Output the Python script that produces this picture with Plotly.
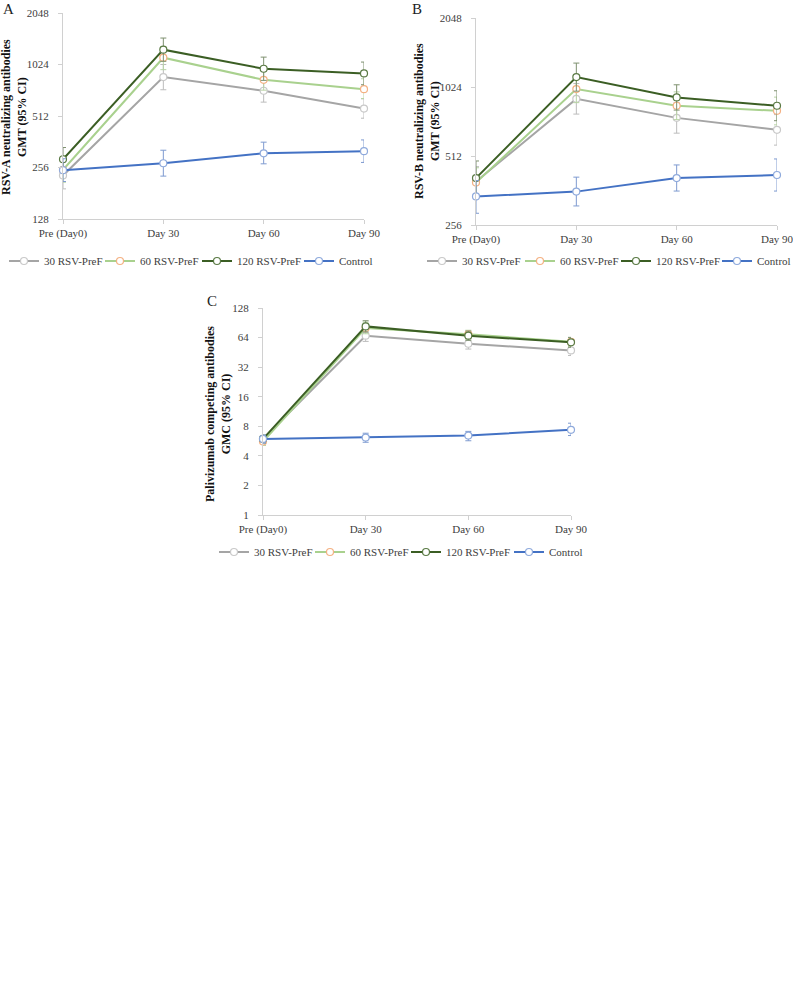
import math
import plotly.graph_objects as go

categories = ["Pre (Day0)", "Day 30", "Day 60", "Day 90"]
series_names = ["30 RSV-PreF", "60 RSV-PreF", "120 RSV-PreF", "Control"]

# Panel A: RSV-A neutralizing antibodies GMT
a_30 = [230, 864, 719, 566]
a_30_hi = [276, 1024, 838, 645]
a_30_lo = [192, 729, 617, 497]
a_60 = [248, 1122, 833, 735]
a_60_hi = [300, 1300, 960, 845]
a_60_lo = [210, 955, 725, 648]
a_120 = [286, 1250, 967, 908]
a_120_hi = [335, 1462, 1131, 1058]
a_120_lo = [244, 1069, 827, 780]
a_ctl = [247, 271, 310, 319]
a_ctl_hi = [288, 323, 360, 371]
a_ctl_lo = [212, 228, 269, 274]

# Panel B: RSV-B neutralizing antibodies GMT
b_30 = [396, 909, 751, 666]
b_30_hi = [460, 1060, 875, 776]
b_30_lo = [341, 780, 644, 571]
b_60 = [392, 1003, 848, 806]
b_60_hi = [455, 1150, 975, 925]
b_60_lo = [338, 875, 738, 700]
b_120 = [410, 1131, 922, 848]
b_120_hi = [487, 1302, 1047, 986]
b_120_lo = [345, 982, 812, 730]
b_ctl = [341, 358, 410, 423]
b_ctl_hi = [400, 414, 468, 497]
b_ctl_lo = [288, 310, 360, 360]

# Panel C: Palivizumab competing antibodies GMC
c_30 = [5.95, 66.9, 55.4, 47.4]
c_30_hi = [6.5, 76, 62, 53]
c_30_lo = [5.4, 58.5, 48.9, 42.1]
c_60 = [5.6, 80, 69, 58]
c_60_hi = [6.2, 92, 76, 64]
c_60_lo = [5.1, 70, 62, 52]
c_120 = [5.95, 83.2, 66.9, 57.2]
c_120_hi = [6.5, 95, 74.6, 64.3]
c_120_lo = [5.4, 73, 60, 51]
c_ctl = [5.95, 6.14, 6.44, 7.36]
c_ctl_hi = [6.5, 6.8, 7.1, 8.6]
c_ctl_lo = [5.4, 5.5, 5.7, 6.44]

a_ticks = [128, 256, 512, 1024, 2048]
b_ticks = [256, 512, 1024, 2048]
c_ticks = [1, 2, 4, 8, 16, 32, 64, 128]

line_colors = ["#a5a5a5", "#a9d18e", "#3b5e24", "#4472c4"]
marker_colors = ["#c9c9c9", "#f4b183", "#5a7a44", "#8faadc"]
err_colors = ["#bcbcbc", "#b9d4a6", "#7f9170", "#7f9bd0"]

FONT = "Liberation Serif"
W, H = 793, 990

fig = go.Figure()

# legend item positions (pixel x of each item's start, pixel y of the row)
panels = [
    dict(ax="", leg_x=[10, 106, 203, 305], leg_y=261,
         data=[(a_30, a_30_hi, a_30_lo), (a_60, a_60_hi, a_60_lo),
               (a_120, a_120_hi, a_120_lo), (a_ctl, a_ctl_hi, a_ctl_lo)]),
    dict(ax="2", leg_x=[428, 526, 622, 723], leg_y=261,
         data=[(b_30, b_30_hi, b_30_lo), (b_60, b_60_hi, b_60_lo),
               (b_120, b_120_hi, b_120_lo), (b_ctl, b_ctl_hi, b_ctl_lo)]),
    dict(ax="3", leg_x=[220, 316, 412, 515], leg_y=552,
         data=[(c_30, c_30_hi, c_30_lo), (c_60, c_60_hi, c_60_lo),
               (c_120, c_120_hi, c_120_lo), (c_ctl, c_ctl_hi, c_ctl_lo)]),
]

xpos = list(range(len(categories)))

def px_x(px):
    return px / W

def px_y(py):
    return 1 - py / H

legends = {}
n = 0
for p in panels:
    for i, (vals, hi, lo) in enumerate(p["data"]):
        n += 1
        lname = "legend" if n == 1 else "legend%d" % n
        legends[lname] = dict(
            orientation="h", x=px_x(p["leg_x"][i] - 6), y=px_y(p["leg_y"]),
            xanchor="left", yanchor="middle", itemwidth=30,
            font=dict(family=FONT, size=11, color="#404040"),
            bgcolor="rgba(0,0,0,0)", itemclick=False)
        fig.add_trace(go.Scatter(
            x=xpos, y=vals, name=series_names[i], showlegend=True,
            xaxis="x" + p["ax"], yaxis="y" + p["ax"], legend=lname,
            mode="lines+markers", cliponaxis=False,
            line=dict(color=line_colors[i], width=2),
            marker=dict(symbol="circle", size=7, color="white",
                        line=dict(color=marker_colors[i], width=1.2)),
            error_y=dict(type="data", symmetric=False,
                         array=[h - v for h, v in zip(hi, vals)],
                         arrayminus=[v - l for v, l in zip(vals, lo)],
                         color=err_colors[i], thickness=1, width=3),
        ))

axis_common = dict(showgrid=False, zeroline=False, showline=True, automargin=False,
                   linecolor="#d0d0d0", linewidth=1,
                   tickfont=dict(family=FONT, size=11, color="#404040"))

def xaxis(domain, anchor):
    return dict(domain=domain, anchor=anchor, range=[0, 3], tickmode="array",
                tickvals=xpos, ticktext=categories, ticks="outside", ticklen=4,
                tickcolor="#d0d0d0", ticklabeloverflow="allow", **axis_common)

def yaxis(domain, anchor, ticks):
    return dict(domain=domain, anchor=anchor, type="log",
                range=[math.log10(ticks[0]), math.log10(ticks[-1])],
                tickmode="array", tickvals=ticks, ticktext=[str(t) for t in ticks],
                ticks="outside", ticklen=4, tickcolor="#d0d0d0",
                ticklabelstandoff=7, **axis_common)

fig.update_layout(
    width=W, height=H, showlegend=True,
    margin=dict(l=0, r=0, t=0, b=0, autoexpand=False),
    paper_bgcolor="white", plot_bgcolor="white",
    font=dict(family=FONT, size=11, color="#404040"),
    xaxis=xaxis([px_x(63), px_x(364)], "y"),
    yaxis=yaxis([px_y(219), px_y(13)], "x", a_ticks),
    xaxis2=xaxis([px_x(476), px_x(777)], "y2"),
    yaxis2=yaxis([px_y(225), px_y(18)], "x2", b_ticks),
    xaxis3=xaxis([px_x(263), px_x(571)], "y3"),
    yaxis3=yaxis([px_y(515), px_y(308)], "x3", c_ticks),
    **legends,
)

annots = [
    dict(text="A", x=px_x(1), y=px_y(9), size=15),
    dict(text="B", x=px_x(410), y=px_y(9), size=15),
    dict(text="C", x=px_x(205), y=px_y(301), size=15),
]
for a in annots:
    fig.add_annotation(text=a["text"], x=a["x"], y=a["y"], xref="paper", yref="paper",
                       xanchor="left", yanchor="middle", showarrow=False,
                       font=dict(family=FONT, size=a["size"], color="#222222"))

ytitles = [
    ("RSV-A neutralizing antibodies<br>GMT (95% CI)", 14, 117),
    ("RSV-B neutralizing antibodies<br>GMT (95% CI)", 427, 121),
    ("Palivizumab competing antibodies<br>GMC (95% CI)", 218, 414),
]
for t, x, y in ytitles:
    fig.add_annotation(text="<b>" + t + "</b>", x=px_x(x), y=px_y(y), xref="paper", yref="paper",
                       xanchor="center", yanchor="middle", showarrow=False, textangle=-90,
                       font=dict(family=FONT, size=12, color="#111111"))

fig.write_html("out.html", config={"displayModeBar": False},
               post_script="document.body.style.margin='0';document.body.style.overflow='hidden';")
